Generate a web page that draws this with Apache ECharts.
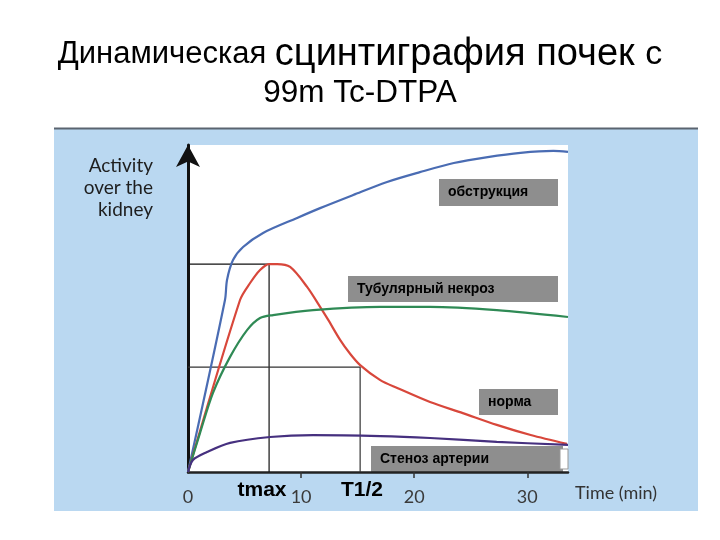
<!DOCTYPE html>
<html><head><meta charset="utf-8">
<script src="https://cdn.jsdelivr.net/npm/echarts@6/dist/echarts.min.js"></script>
<style>html,body{margin:0;padding:0;background:#fff}#c{width:720px;height:540px}</style>
</head><body><div id="c"></div>
<script>
// Time axis tick labels (min)
const xTickValues = [0, 10, 20, 30];
const xTickMarks = [10, 20, 30];
// Curves: [time (min), activity (relative units, 0..100)]
const obstruction = [[0,0],[3.27,52.6],[3.45,58.7],[3.98,64.8],[4.87,68.8],[6.64,73.1],[9.65,77.7],[11.68,80.7],[14.6,84.7],[17.6,88.7],[20.5,91.7],[23.5,94.5],[26.5,96.3],[29.4,97.6],[32.3,98.2],[33.6,97.9]];
const normal = [[0,0],[4.6,52.6],[5.49,57.8],[6.37,61.8],[7.17,63.6],[7.88,63.6],[9.03,62.7],[10.53,56.6],[11.68,50.5],[12.4,46.5],[13.45,40.4],[14.3,36.3],[15.22,32.7],[17,28.1],[18.5,25.7],[21.4,21.4],[24.3,18.0],[27.3,14.4],[30.3,11.3],[33.5,8.6]];
const tubularNecrosis = [[0,0],[1.06,11.9],[2.21,24.2],[3.72,35.2],[5.22,43.4],[6.37,47.1],[7.52,48.0],[11.06,49.5],[17,50.5],[21.4,50.5],[27.3,49.5],[33.6,47.4]];
const arteryStenosis = [[0,0],[0.44,3.7],[1.68,6.1],[3.72,8.9],[7.26,10.7],[11.06,11.3],[17,11.0],[21.4,10.4],[27.3,9.2],[33.6,8.3]];
// Guide lines for tmax and T1/2
const tmaxHorizontal = [[0,63.6],[7.7,63.6]];
const tmaxVertical = [[7.17,63.6],[7.17,0]];
const halfGuide = [[0,32.1],[15.22,32.1],[15.22,0]];

const chart = echarts.init(document.getElementById('c'));
const boxColor = '#8e8e8e';
function box(x, y, w, h, text) {
  return {
    type: 'group', x: x, y: y, z: 100,
    children: [
      {type: 'rect', shape: {x: 0, y: 0, width: w, height: h}, style: {fill: boxColor}},
      {type: 'text', x: 9, y: h / 2, style: {text: text, fill: '#000', font: 'bold 14px "Liberation Sans", Arial, sans-serif', textVerticalAlign: 'middle'}}
    ]
  };
}
const lineSeries = (data, color) => ({
  type: 'line', data: data, smooth: 0.3, showSymbol: false, symbol: 'none', clip: false,
  lineStyle: {color: color, width: 2.2}, z: 5
});
const guideSeries = (data, color) => ({
  type: 'line', data: data, smooth: false, showSymbol: false, symbol: 'none',
  lineStyle: {color: color || '#111', width: 1.2}, z: 3
});
const titleFont = '"Liberation Sans", Arial, sans-serif';

chart.setOption({
  backgroundColor: '#ffffff',
  animation: false,
  title: {
    left: 'center', top: 30,
    text: '{a|Динамическая }{b|сцинтиграфия почек }{d|с}\n{c|99m Tc-DTPA}',
    textStyle: {
      fontWeight: 'normal',
      rich: {
        a: {fontSize: 31, fontFamily: titleFont, fontWeight: 'normal', color: '#000', lineHeight: 39},
        b: {fontSize: 38, fontFamily: titleFont, fontWeight: 'normal', color: '#000', lineHeight: 39},
        d: {fontSize: 34, fontFamily: titleFont, fontWeight: 'normal', color: '#000', lineHeight: 39},
        c: {fontSize: 31.5, fontFamily: titleFont, fontWeight: 'normal', color: '#000', lineHeight: 39}
      }
    }
  },
  graphic: [
    {type: 'rect', z: -10, shape: {x: 54, y: 128, width: 644, height: 383}, style: {fill: '#bad8f1'}},
    {type: 'line', z: -9, shape: {x1: 54, y1: 128.5, x2: 698, y2: 128.5}, style: {stroke: '#5a6470', lineWidth: 2}},
    {type: 'text', x: 153, y: 155, style: {text: 'Activity\nover the\nkidney', fill: '#1e1e1e', font: '19px Lato, sans-serif', textAlign: 'right', lineHeight: 22}},
    {type: 'text', x: 575, y: 493, style: {text: 'Time (min)', fill: '#333', font: '18px Lato, sans-serif', textVerticalAlign: 'middle'}},
    {type: 'text', x: 262, y: 490, z: 50, style: {text: 'tmax', fill: '#000', font: 'bold 21px "Liberation Sans", Arial, sans-serif', textAlign: 'center', textVerticalAlign: 'middle'}},
    {type: 'text', x: 362, y: 490, z: 50, style: {text: 'T1/2', fill: '#000', font: 'bold 21px "Liberation Sans", Arial, sans-serif', textAlign: 'center', textVerticalAlign: 'middle'}},
    box(439, 179, 119, 27, 'обструкция'),
    box(348, 276, 210, 26, 'Тубулярный некроз'),
    box(479, 389, 79, 26, 'норма'),
    {type: 'rect', z: 99, shape: {x: 560, y: 449, width: 8, height: 20}, style: {fill: '#ffffff', stroke: '#999', lineWidth: 1}},
    box(371, 446, 192, 26, 'Стеноз артерии')
  ],
  grid: {left: 188, right: 152, top: 145, bottom: 68, show: true, backgroundColor: '#ffffff', borderWidth: 0},
  xAxis: {
    type: 'value', min: 0, max: 33.6, interval: 10,
    axisLine: {lineStyle: {color: '#222', width: 2.5}},
    axisTick: {show: true, customValues: xTickMarks, length: 6, lineStyle: {color: '#333', width: 1.5}},
    axisLabel: {customValues: xTickValues, color: '#3a3a3a', fontSize: 18, fontFamily: 'Lato, sans-serif', margin: 16},
    splitLine: {show: false}
  },
  yAxis: {
    type: 'value', min: 0, max: 100,
    axisLine: {show: true, symbol: ['none', 'arrow'], symbolSize: [18, 22], lineStyle: {color: '#111', width: 3}},
    axisTick: {show: false}, axisLabel: {show: false}, splitLine: {show: false}
  },
  series: [
    guideSeries(tmaxHorizontal),
    guideSeries(tmaxVertical),
    guideSeries(halfGuide, '#333'),
    lineSeries(obstruction, '#4a6cb3'),
    lineSeries(normal, '#d8473b'),
    lineSeries(tubularNecrosis, '#2f8a55'),
    lineSeries(arteryStenosis, '#46307f')
  ]
});
</script></body></html>
